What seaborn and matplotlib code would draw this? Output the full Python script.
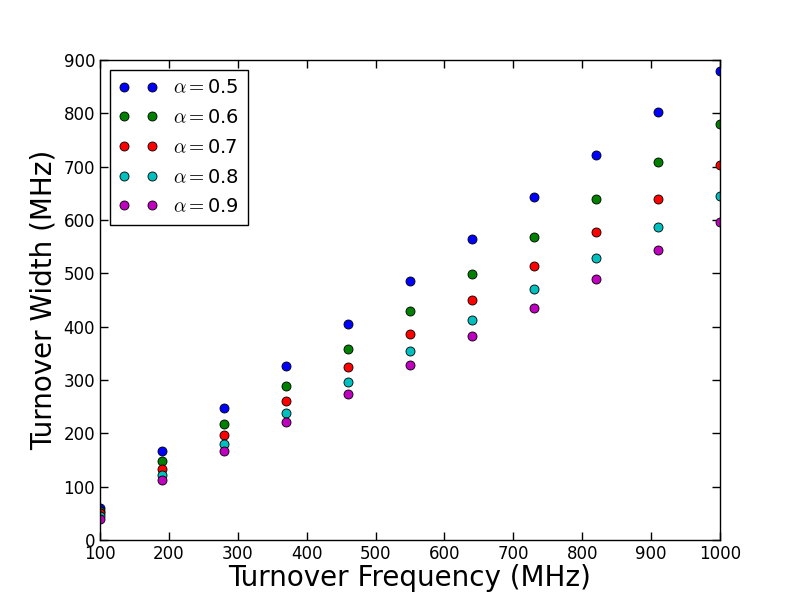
import matplotlib
matplotlib.use("Agg")
import matplotlib.pyplot as plt
import seaborn as sns
import pandas as pd

# turnover frequency (MHz)
freq = [100, 190, 280, 370, 460, 550, 640, 730, 820, 910, 1000]

# turnover width (MHz) for each alpha
width_05 = [60, 166, 247, 326, 405, 486, 564, 643, 722, 802, 880]
width_06 = [55, 148, 217, 289, 358, 429, 499, 568, 639, 709, 780]
width_07 = [50, 133, 197, 261, 325, 387, 450, 514, 577, 640, 703]
width_08 = [45, 122, 180, 238, 297, 355, 413, 471, 529, 587, 645]
width_09 = [40, 112, 167, 221, 274, 328, 382, 435, 489, 543, 596]

alphas = ['0.5', '0.6', '0.7', '0.8', '0.9']
colors = ['#0000ff', '#008000', '#ff0000', '#00bfbf', '#bf00bf']


def build_frame():
    rows = []
    for a, ws in zip(alphas, [width_05, width_06, width_07, width_08, width_09]):
        for f, w in zip(freq, ws):
            rows.append({'freq': f, 'width': w, 'alpha': r'$\alpha=$' + a})
    return pd.DataFrame(rows)


def set_style():
    sns.set_style("ticks")
    plt.rcParams['font.family'] = ['DejaVu Sans']
    plt.rcParams['mathtext.fontset'] = 'cm'
    plt.rcParams['xtick.direction'] = 'in'
    plt.rcParams['ytick.direction'] = 'in'
    plt.rcParams['xtick.top'] = True
    plt.rcParams['ytick.right'] = True
    plt.rcParams['xtick.major.size'] = 6
    plt.rcParams['ytick.major.size'] = 6
    plt.rcParams['axes.edgecolor'] = 'black'
    plt.rcParams['axes.labelcolor'] = 'black'
    plt.rcParams['text.color'] = 'black'
    plt.rcParams['xtick.color'] = 'black'
    plt.rcParams['ytick.color'] = 'black'


def main():
    df = build_frame()
    set_style()

    fig = plt.figure(figsize=(8, 6), dpi=100)
    ax = fig.add_axes([0.125, 0.1, 0.775, 0.8])

    # markers only, no connecting lines (like old plot(..., 'o'))
    sns.lineplot(data=df, x='freq', y='width', hue='alpha', palette=colors,
                 estimator=None, errorbar=None, marker='o', linestyle='',
                 markersize=6.5, markeredgecolor='black', markeredgewidth=0.6,
                 legend=False, ax=ax)

    handles = []
    for a, c in zip(alphas, colors):
        h, = ax.plot([], [], 'o', color=c, markeredgecolor='black',
                     markeredgewidth=0.6, markersize=6.5, label=r'$\alpha=$' + a)
        handles.append(h)

    ax.set_xlim(100, 1000)
    ax.set_ylim(0, 900)
    ax.set_xticks(range(100, 1001, 100))
    ax.set_yticks(range(0, 901, 100))
    ax.tick_params(labelsize=12, width=1)
    for sp in ax.spines.values():
        sp.set_linewidth(1)
        sp.set_color('black')

    ax.set_xlabel('Turnover Frequency (MHz)', fontsize=20, labelpad=1)
    ax.set_ylabel('Turnover Width (MHz)', fontsize=20, labelpad=4)

    leg = ax.legend(handles=handles, loc='upper left', numpoints=2,
                    fontsize=14, fancybox=False, frameon=True,
                    borderaxespad=0.5, handlelength=2.0, labelspacing=0.55,
                    borderpad=0.45)
    leg.get_frame().set_edgecolor('black')
    leg.get_frame().set_linewidth(1)
    leg.get_frame().set_alpha(1)

    fig.savefig('out.png', dpi=100, facecolor='white')
    plt.close(fig)


if __name__ == "__main__":
    main()
